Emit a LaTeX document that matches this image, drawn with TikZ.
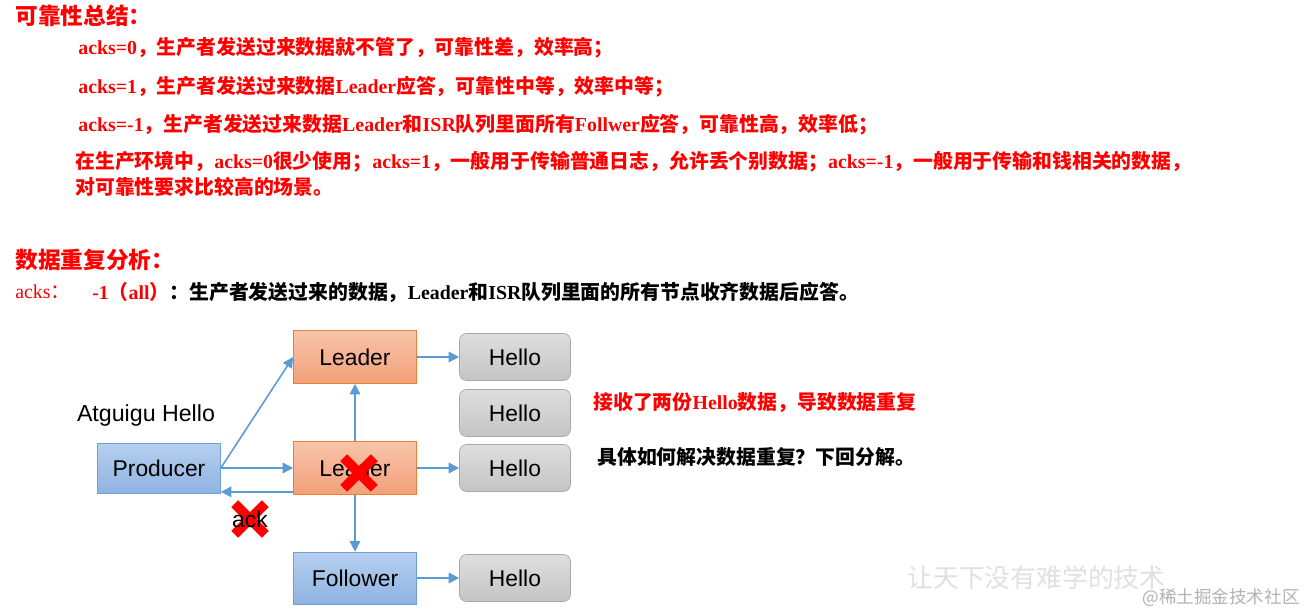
\documentclass[tikz,border=0pt]{standalone}
\usepackage{fontspec}
\setmainfont{Liberation Serif}
\setsansfont{Liberation Sans}
\newfontfamily\cjk{Noto Sans CJK SC}
\usetikzlibrary{arrows.meta,positioning,shapes.misc}
\definecolor{alert}{RGB}{255,0,0}
\definecolor{arrowblue}{RGB}{91,155,213}
\definecolor{leadtop}{RGB}{248,196,170}
\definecolor{leadbot}{RGB}{242,160,122}
\definecolor{leadline}{RGB}{237,125,49}
\definecolor{bluetop}{RGB}{182,208,238}
\definecolor{bluebot}{RGB}{143,179,226}
\definecolor{blueline}{RGB}{110,160,220}
\definecolor{graytop}{RGB}{222,222,222}
\definecolor{graybot}{RGB}{196,196,196}
\definecolor{grayline}{RGB}{168,168,168}
\newcommand{\zh}[1]{{\cjk #1}}
\tikzset{
    heading/.style={font=\cjk\fontsize{12.9}{15}\selectfont\bfseries, text=alert, inner sep=0, anchor=west},
    note/.style={font=\fontsize{11.3}{13}\selectfont\bfseries, text=alert, inner sep=0, anchor=west},
    plain/.style={font=\fontsize{11.3}{13}\selectfont\bfseries, text=black, inner sep=0, anchor=west},
    leader/.style={rectangle, draw=leadline, top color=leadtop, bottom color=leadbot, minimum width=2.46cm, minimum height=1.06cm, font=\sffamily\fontsize{13}{15}\selectfont},
    client/.style={rectangle, draw=blueline, top color=bluetop, bottom color=bluebot, minimum width=2.46cm, minimum height=1.04cm, font=\sffamily\fontsize{13}{15}\selectfont},
    msg/.style={rectangle, rounded corners=4pt, draw=grayline, top color=graytop, bottom color=graybot, minimum width=2.22cm, minimum height=0.94cm, font=\sffamily\fontsize{13}{15}\selectfont},
    edge/.style={-{Triangle[length=6pt, width=6pt]}, draw=arrowblue, line width=0.9pt},
    xmark/.style={cross out, draw=alert, line width=5.5pt, minimum size=0.42cm, inner sep=0}
}
\begin{document}
\begin{tikzpicture}[x=0.02cm, y=-0.02cm]
    \useasboundingbox (0,0) rectangle (1308,614);

    % Reliability summary
    \node[heading] (T1) at (15,16) {可靠性总结：};
    \node[note] (A0) at (78,48) {acks=0\zh{，生产者发送过来数据就不管了，可靠性差，效率高；}};
    \node[note] (A1) at (78,87) {acks=1\zh{，生产者发送过来数据}Leader\zh{应答，可靠性中等，效率中等；}};
    \node[note] (A2) at (78,125) {acks=-1\zh{，生产者发送过来数据}Leader\zh{和}ISR\zh{队列里面所有}Follwer\zh{应答，可靠性高，效率低；}};
    \node[note] (P1) at (75,162) {\zh{在生产环境中，}acks=0\zh{很少使用；}acks=1\zh{，一般用于传输普通日志，允许丢个别数据；}acks=-1\zh{，一般用于传输和钱相关的数据，}};
    \node[note] (P2) at (75,187) {\zh{对可靠性要求比较高的场景。}};

    % Duplicate data analysis
    \node[heading] (T2) at (15,260) {数据重复分析：};
    \node[note, font=\fontsize{11.3}{13}\selectfont] (K) at (15,292) {acks\zh{：}};
    \node[note] (K1) at (92,292) {-1\zh{（}all\zh{）}\textcolor{black}{\zh{：生产者发送过来的数据，}Leader\zh{和}ISR\zh{队列里面的所有节点收齐数据后应答。}}};

    % Nodes
    \node[leader] (L1) at (355,357) {Leader};
    \node[leader] (L2) at (355,468) {Leader};
    \node[client] (F) at (355,578) {Follower};
    \node[client, minimum height=1.0cm] (P) at (159,468) {Producer};
    \node[font=\sffamily\fontsize{13.2}{15}\selectfont, inner sep=0] (AH) at (146,416) {Atguigu Hello};
    \node[msg] (H1) at (515,357) {Hello};
    \node[msg] (H2) at (515,413) {Hello};
    \node[msg] (H3) at (515,468) {Hello};
    \node[msg] (H4) at (515,578) {Hello};

    % Connectors
    \draw[edge] (P.east) -- (L1.west);
    \draw[edge] (P.east) -- (L2.west);
    \draw[edge] ([yshift=1.7pt]L2.south west) -- ([yshift=1.7pt]L2.south west -| P.east);
    \draw[edge] (L2.north) -- (L1.south);
    \draw[edge] (L2.south) -- (F.north);
    \draw[edge] (L1.east) -- (H1.west);
    \draw[edge] (L2.east) -- (H3.west);
    \draw[edge] (F.east) -- (H4.west);

    % Failures
    \node[xmark] (X1) at (359,473) {};
    \node[xmark] (X2) at (250,519) {};
    \node[font=\sffamily\fontsize{13}{15}\selectfont, inner sep=0] (ACK) at (250,519) {ack};

    % Remarks
    \node[note] (R1) at (593,403) {\zh{接收了两份}Hello\zh{数据，导致数据重复}};
    \node[plain] (R2) at (597,457) {\zh{具体如何解决数据重复？下回分解。}};

    % Watermark
    \node[font=\cjk\fontsize{14.7}{17}\selectfont, text=black!12, inner sep=0, anchor=west] (W1) at (907,578) {让天下没有难学的技术};
    \node[font=\cjk\fontsize{10}{12}\selectfont, text=black!30, inner sep=0, anchor=east] (W2) at (1300,598) {@稀土掘金技术社区};
\end{tikzpicture}
\end{document}
